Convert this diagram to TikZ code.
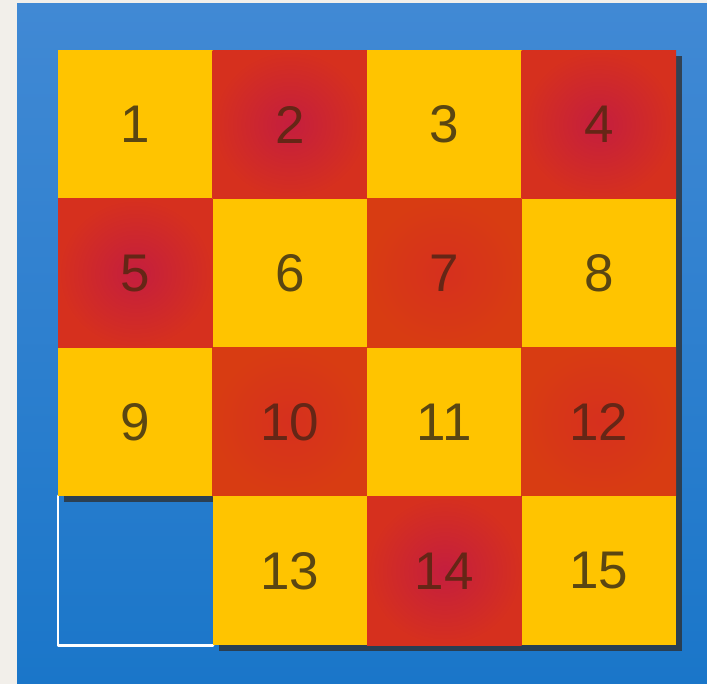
\documentclass[tikz,border=0pt]{standalone}
\usepackage{fontspec}
\setmainfont{Liberation Sans}
\definecolor{beige}{HTML}{F2EFEA}
\definecolor{bgtop}{HTML}{4189D4}
\definecolor{bgbot}{HTML}{1A76C9}
\definecolor{yel}{HTML}{FFC400}
\definecolor{numy}{HTML}{5A4612}
\definecolor{numr}{HTML}{652616}
\definecolor{crim}{HTML}{C41E3E}
\definecolor{ored}{HTML}{D6301E}
\definecolor{orng}{HTML}{D83C12}
\definecolor{shad}{HTML}{2E2B2A}
\begin{document}
\begin{tikzpicture}[x=1pt,y=-1pt,
  tile/.style={minimum width=154.5pt, minimum height=148.75pt, inner sep=0pt,
    anchor=north west, font=\fontsize{53}{53}\selectfont},
  ytile/.style={tile, fill=yel, text=numy},
  rtile/.style={tile, shading=radial, inner color=crim, outer color=ored, text=numr},
  otile/.style={tile, shading=radial, inner color=ored, outer color=orng, text=numr},
  shadowbox/.style={fill=shad, opacity=0.75}]
\useasboundingbox (0,0) rectangle (707,684);
\fill[beige] (0,0) rectangle (707,684);
\shade[top color=bgtop, bottom color=bgbot] (17,4) rectangle (707,684);
% shadows
\foreach \i/\j in {0/0,1/0,2/0,3/0,0/1,1/1,2/1,3/1,0/2,1/2,2/2,3/2,1/3,2/3,3/3}
  \fill[shadowbox] ({58+\i*154.5+6},{50+\j*148.75+6}) rectangle ++(154.5,148.75);
% empty slot
\node[tile] (e) at (58,496) {};
\draw[white, line width=2.8pt, line cap=round, line join=round] (e.north west) -- (e.south west) -- (e.south east);
% tiles
\node[ytile] (c1)  at (58,50) {1};
\node[rtile] (c2)  at (212.5,50) {2};
\node[ytile] (c3)  at (367,50) {3};
\node[rtile] (c4)  at (521.5,50) {4};
\node[rtile] (c5)  at (58,198.75) {5};
\node[ytile] (c6)  at (212.5,198.75) {6};
\node[otile] (c7)  at (367,198.75) {7};
\node[ytile] (c8)  at (521.5,198.75) {8};
\node[ytile] (c9)  at (58,347.5) {9};
\node[otile] (c10) at (212.5,347.5) {10};
\node[ytile] (c11) at (367,347.5) {11};
\node[otile] (c12) at (521.5,347.5) {12};
\node[ytile] (c13) at (212.5,496.25) {13};
\node[rtile] (c14) at (367,496.25) {14};
\node[ytile] (c15) at (521.5,496.25) {15};
\end{tikzpicture}
\end{document}
